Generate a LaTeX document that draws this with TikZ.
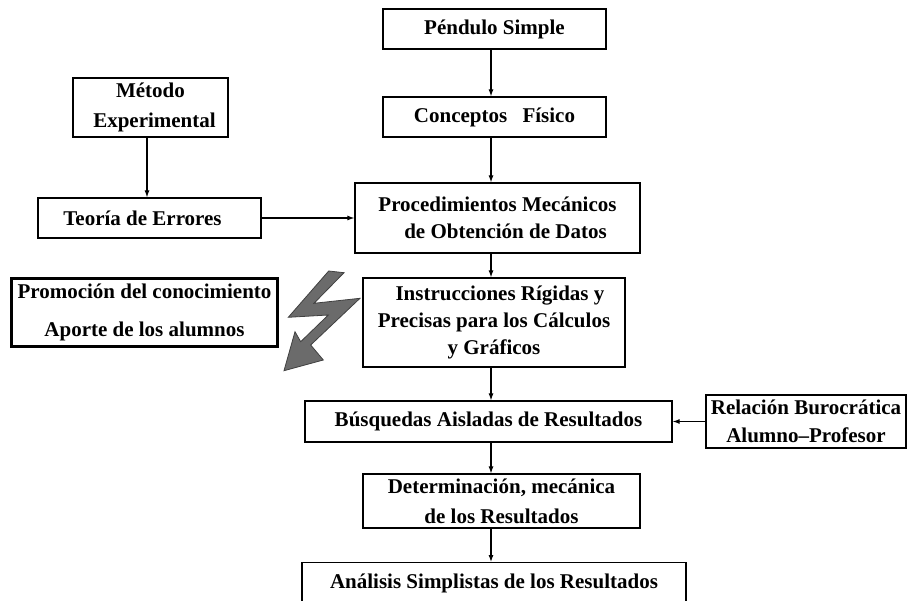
\documentclass[tikz,border=0pt]{standalone}
\usepackage{fontspec}
\setmainfont{Liberation Serif}
\usetikzlibrary{arrows.meta}
\begin{document}
\begin{tikzpicture}[x=1pt,y=-1pt,
  box/.style={draw, line width=1.2pt, align=center, inner sep=0pt,
    font=\fontsize{21}{27}\selectfont\bfseries},
  thickbox/.style={box, line width=2.6pt},
  arr/.style={line width=1.1pt, -{Latex[length=7pt,width=5pt]}},
  bolt/.style={fill=black!58, draw=black!75, line width=0.8pt, line join=miter},
]
\useasboundingbox (0,0) rectangle (908,601);
\coordinate (spine) at (491,0);
\coordinate (lspine) at (147,0);

\node[box, minimum width=223pt, minimum height=40pt] (pend) at (494.5,29) {Péndulo Simple};
\node[box, minimum width=223pt, minimum height=40pt] (conc) at (494.5,117) {Conceptos\hspace{10pt} Físico};
\node[box, minimum width=155pt, minimum height=59pt, font=\fontsize{21}{30}\selectfont\bfseries] (met) at (150.5,107.5) {Método\\ \hspace{8pt}Experimental};
\node[box, minimum width=223pt, minimum height=40pt] (teo) at (149.5,218) {Teoría de Errores\hspace{14pt}};
\node[box, minimum width=285pt, minimum height=70pt] (proc) at (497.5,218) {Procedimientos Mecánicos\\ \hspace{16pt}de Obtención de Datos};
\node[thickbox, minimum width=266pt, minimum height=68pt, font=\fontsize{21}{38}\selectfont\bfseries] (prom) at (144.5,312.5) {Promoción del conocimiento\\ Aporte de los alumnos};
\node[box, minimum width=262pt, minimum height=89pt] (inst) at (494,322.5) {\hspace{12pt}Instrucciones Rígidas y\\ Precisas para los Cálculos\\ y Gráficos};
\node[box, minimum width=367pt, minimum height=41pt] (bus) at (488.5,421.5) {Búsquedas Aisladas de Resultados};
\node[box, minimum width=200pt, minimum height=53pt, font=\fontsize{21}{28}\selectfont\bfseries] (rel) at (806,421.5) {Relación Burocrática\\ Alumno–Profesor};
\node[box, minimum width=277pt, minimum height=54pt, font=\fontsize{21}{30}\selectfont\bfseries] (det) at (501.5,501) {Determinación, mecánica\\ de los Resultados};
\node[box, anchor=north, minimum width=384pt, text height=26pt, text depth=40pt] (ana) at (494,562) {Análisis Simplistas de los Resultados};

\draw[arr] (pend.south -| spine) -- (conc.north -| spine);
\draw[arr] (conc.south -| spine) -- (proc.north -| spine);
\draw[arr] (met.south -| lspine) -- (teo.north -| lspine);
\draw[arr] (teo.east) -- (teo.east -| proc.west);
\draw[arr] (proc.south -| spine) -- (inst.north -| spine);
\draw[arr] (inst.south -| spine) -- (bus.north -| spine);
\draw[arr] (rel.west) -- (rel.west -| bus.east);
\draw[arr] (bus.south -| spine) -- (det.north -| spine);
\draw[arr] (det.south -| spine) -- (ana.north -| spine);

\draw[bolt] (328.7,271) -- (344,272.7) -- (314,303.3) -- (360,298.3) -- (310.7,345)
  -- (323.3,360) -- (284,370.7) -- (295,331.7) -- (300.7,341.7) -- (328.3,315)
  -- (288.3,317.3) -- cycle;
\end{tikzpicture}
\end{document}
